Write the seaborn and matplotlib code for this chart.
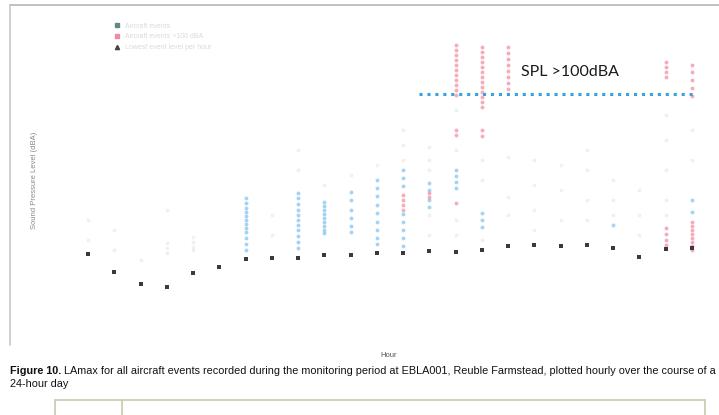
import numpy as np
import pandas as pd
import matplotlib
matplotlib.use("Agg")
import matplotlib.pyplot as plt
from matplotlib.lines import Line2D
import seaborn as sns

# ---------------- data ----------------
hours = list(range(24))

# hourly low level (black dots), dBA
hourly_low = [53.5, 48.3, 44.8, 43.9, 48.0, 49.7, 52.0, 52.3, 52.3, 53.2, 53.2, 53.8,
              53.8, 54.4, 54.1, 54.7, 55.8, 56.1, 55.8, 56.1, 55.2, 52.6, 55.0, 55.2]

# blue events per hour
blue_events = {
    6: [69.8, 68.3, 66.9, 65.7, 64.5, 63.4, 62.2, 61.0, 59.9, 58.1, 56.4, 54.7],
    8: [71.2, 69.8, 68.0, 66.3, 64.8, 63.4, 61.9, 60.5, 58.7, 57.0, 55.2],
    9: [68.6, 67.4, 66.3, 65.1, 64.0, 62.8, 61.6, 60.5, 59.6],
    10: [71.5, 69.2, 66.3, 64.0, 61.6, 59.9],
    11: [75.0, 72.7, 70.3, 67.7, 65.4, 62.8, 60.5, 58.1, 56.4],
    12: [77.9, 75.6, 73.3, 65.1, 62.8, 60.5, 58.1, 55.8],
    13: [74.1, 72.1, 69.2, 67.2],
    14: [77.9, 76.2, 74.4, 72.7],
    15: [65.4, 63.4, 61.3],
    20: [61.9],
    23: [69.2, 65.7],
}

# red events per hour
red_events = {
    12: [70.6, 69.2, 67.7, 66.3],
    13: [71.2, 70.1],
    14: [114.2, 112.8, 111.3, 109.9, 108.4, 107.0, 105.5, 104.1, 102.6, 101.2, 99.7,
         89.5, 88.1, 68.3],
    15: [113.7, 112.2, 110.8, 109.3, 107.8, 106.4, 104.9, 103.5, 102.0, 100.6, 99.1,
         97.7, 96.2, 89.5, 87.8],
    16: [113.7, 111.9, 110.2, 108.4, 106.7, 105.0, 103.2, 101.5],
    22: [109.3, 107.8, 106.4, 104.9, 61.0, 59.3, 57.6, 56.1],
    23: [108.4, 106.4, 104.1, 101.7, 99.4, 62.8, 61.6, 60.5, 59.3, 58.1, 57.0, 55.8, 54.7],
}

# faint grey events per hour
grey_events = {
    0: [63.4, 57.6],
    1: [60.5, 54.7],
    2: [51.7],
    3: [66.3, 56.7, 55.2, 53.8],
    4: [58.4, 57.0, 55.5, 54.7],
    7: [64.8, 59.0],
    8: [83.7, 77.9],
    9: [73.5],
    10: [76.5],
    11: [79.4],
    12: [89.5, 85.2, 80.8],
    13: [84.6, 80.8, 77.9, 64.8, 59.0],
    14: [95.3, 83.7, 63.4, 59.0],
    15: [80.8, 75.0, 57.6],
    16: [81.7, 70.1, 64.8],
    17: [80.8, 73.5, 66.3, 60.5],
    18: [79.4, 72.1, 63.4],
    19: [83.7, 77.9, 69.2, 63.4],
    20: [75.0, 69.2, 64.8],
    21: [72.1, 64.8, 59.0],
    22: [93.9, 86.6, 77.9, 69.2, 64.8],
    23: [89.5, 80.8],
}

threshold = 100
threshold_span = (12.6, 23.2)
threshold_label = "SPL >100dBA"
legend_labels = ["Aircraft events", "Aircraft events >100 dBA", "Lowest event level per hour"]

caption_bold = "Figure 10."
caption_rest = (" LAmax for all aircraft events recorded during the monitoring period at "
                "EBLA001, Reuble Farmstead, plotted hourly over the course of a")
caption_line2 = "24-hour day"


def to_long(d):
    rows = [(h, v) for h, vals in d.items() for v in vals]
    return pd.DataFrame(rows, columns=["hour", "spl"])


df_blue = to_long(blue_events)
df_red = to_long(red_events)
df_grey = to_long(grey_events)
df_low = pd.DataFrame({"hour": hours, "spl": hourly_low})

# ---------------- figure ----------------
sns.set_theme(style="white")
plt.rcParams["font.family"] = ["Liberation Sans", "DejaVu Sans"]

W, H = 719, 415
fig = plt.figure(figsize=(W / 100, H / 100), dpi=100)
ax = fig.add_axes([62 / W, (H - 335) / H, (718 - 62) / W, 320 / H])

order = hours
sns.stripplot(data=df_grey, x="hour", y="spl", order=order, jitter=False,
              color="#c4c4c4", alpha=0.25, size=2.6, linewidth=0, ax=ax)
sns.stripplot(data=df_blue, x="hour", y="spl", order=order, jitter=False,
              color="#4aaae8", alpha=0.5, size=2.8, linewidth=0, ax=ax)
sns.stripplot(data=df_red, x="hour", y="spl", order=order, jitter=False,
              color="#ee5a78", alpha=0.5, size=2.8, linewidth=0, ax=ax)
sns.stripplot(data=df_low, x="hour", y="spl", order=order, jitter=False,
              color="#3a3a3a", size=2.6, marker="s", linewidth=0, ax=ax)

ax.hlines(threshold, threshold_span[0], threshold_span[1], colors="#3a9ee0",
          linestyles=(0, (1, 1.6)), linewidth=2.2)
ax.text(16.5, threshold + 6.4, threshold_label, fontsize=11.5, family=["Lato", "DejaVu Sans"],
        color="#1a1a1a", va="center", ha="left")

ax.set_xlim(-1, 24)
ax.set_ylim(30, 123)
ax.set_xticks([])
ax.set_yticks([])
for s in ax.spines.values():
    s.set_visible(False)
ax.set_xlabel("")
ax.set_ylabel("")

handles = [
    Line2D([], [], marker="s", linestyle="", color="#5f8a88", markersize=3),
    Line2D([], [], marker="s", linestyle="", color="#f08aa0", markersize=3),
    Line2D([], [], marker="^", linestyle="", color="#444444", markersize=3),
]
leg = ax.legend(handles, legend_labels, loc="upper left", bbox_to_anchor=(0.075, 0.985),
                frameon=False, fontsize=5, handletextpad=0.6, labelspacing=0.55,
                handlelength=1.0, borderaxespad=0)
for t in leg.get_texts():
    t.set_color("#dadada")

# axis titles (placed as in the scan)
fig.text(35 / W, 1 - 180 / H, "Sound Pressure Level (dBA)", rotation=90, fontsize=5.5,
         color="#8a8a8a", ha="center", va="center")
fig.text(389 / W, 1 - 355 / H, "Hour", fontsize=5.5, color="#555555", ha="center", va="center")

# scan frame lines
fig.add_artist(Line2D([10 / W, 1.0], [1 - 5 / H, 1 - 5 / H], color="#b5b5b5", lw=1.2))
fig.add_artist(Line2D([10 / W, 10 / W], [1 - 5 / H, 1 - 345 / H], color="#c8c8c8", lw=1.2))

# caption
cap_size = 7.8
t1 = fig.text(10 / W, 1 - 371 / H, caption_bold, fontsize=cap_size, fontweight="bold",
              color="#111111", va="center", ha="left")
fig.canvas.draw()
bb = t1.get_window_extent(renderer=fig.canvas.get_renderer())
fig.text(bb.x1 / W, 1 - 371 / H, caption_rest, fontsize=cap_size, color="#111111",
         va="center", ha="left")
fig.text(10 / W, 1 - 384 / H, caption_line2, fontsize=cap_size, color="#111111",
         va="center", ha="left")

# table row at bottom
tc = "#c9c9ad"
fig.add_artist(Line2D([55 / W, 705 / W], [1 - 400 / H, 1 - 400 / H], color=tc, lw=1.2))
fig.add_artist(Line2D([55 / W, 55 / W], [1 - 400 / H, 0], color=tc, lw=1.2))
fig.add_artist(Line2D([122 / W, 122 / W], [1 - 400 / H, 0], color=tc, lw=1.2))
fig.add_artist(Line2D([705 / W, 705 / W], [1 - 400 / H, 0], color=tc, lw=1.2))

fig.savefig("out.png", dpi=100)
